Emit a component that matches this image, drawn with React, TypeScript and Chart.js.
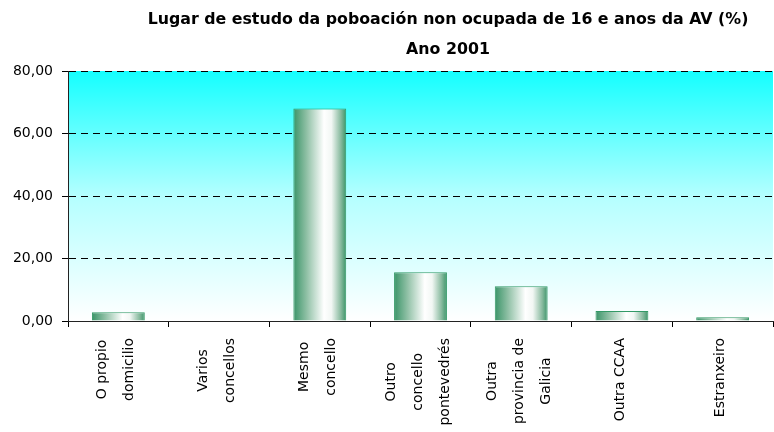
import React, { useEffect, useRef } from 'react';
import { Chart, registerables } from 'chart.js';

Chart.register(...registerables);

const titleLines = ['Lugar de estudo da poboación non ocupada de 16 e anos da AV (%)', 'Ano 2001'];
const categories: string[][] = [
  ['O propio', 'domicilio'],
  ['Varios', 'concellos'],
  ['Mesmo', 'concello'],
  ['Outro', 'concello', 'pontevedrés'],
  ['Outra', 'provincia de', 'Galicia'],
  ['Outra CCAA'],
  ['Estranxeiro'],
];
const values = [2.8, 0, 68.0, 15.6, 11.1, 3.2, 1.2];
const yMin = 0;
const yMax = 80;
const yStep = 20;

const BAR_PCT = 0.525;
const FONT = '"DejaVu Sans", Verdana, sans-serif';

const bgPlugin = {
  id: 'plotBg',
  beforeDraw(chart: any) {
    const { ctx, chartArea: a } = chart;
    if (!a) return;
    const g = ctx.createLinearGradient(0, a.top, 0, a.bottom);
    g.addColorStop(0, '#14ffff');
    g.addColorStop(0.5, '#b4ffff');
    g.addColorStop(1, '#ffffff');
    ctx.save();
    ctx.fillStyle = g;
    ctx.fillRect(a.left, a.top, a.right - a.left, a.bottom - a.top);
    ctx.restore();
  },
};

const titlePlugin = {
  id: 'customTitle',
  afterDraw(chart: any) {
    const { ctx } = chart;
    ctx.save();
    ctx.fillStyle = '#000';
    ctx.font = `bold 15.8px ${FONT}`;
    ctx.textAlign = 'center';
    ctx.textBaseline = 'middle';
    ctx.fillText(titleLines[0], 448, 20);
    ctx.fillText(titleLines[1], 448, 50);
    ctx.restore();
  },
};

const xLabelPlugin = {
  id: 'xLabels',
  afterDraw(chart: any) {
    const { ctx } = chart;
    const scale = chart.scales.x;
    ctx.save();
    ctx.fillStyle = '#000';
    ctx.font = `14px ${FONT}`;
    ctx.textAlign = 'center';
    ctx.textBaseline = 'middle';
    const spacing = 27;
    const top = chart.chartArea.bottom + 17;
    categories.forEach((lines, i) => {
      const cx = scale.getPixelForValue(i) - 2;
      const n = lines.length;
      const w = Math.max(...lines.map((l) => ctx.measureText(l).width));
      lines.forEach((line, j) => {
        const lx = cx + (j - (n - 1) / 2) * spacing;
        ctx.save();
        ctx.translate(lx, top + w / 2);
        ctx.rotate(-Math.PI / 2);
        ctx.fillText(line, 0, 0);
        ctx.restore();
      });
    });
    ctx.restore();
  },
};

function barGradient(context: any) {
  const chart = context.chart;
  const scale = chart.scales?.x;
  if (!scale || !chart.chartArea) return '#4a9f75';
  const i = context.dataIndex ?? 0;
  const cx = scale.getPixelForValue(i);
  const half = (scale.width / categories.length) * BAR_PCT / 2;
  const g = chart.ctx.createLinearGradient(cx - half, 0, cx + half, 0);
  g.addColorStop(0, '#3a9468');
  g.addColorStop(0.25, '#8fc0a5');
  g.addColorStop(0.58, '#ffffff');
  g.addColorStop(0.72, '#f2f7f4');
  g.addColorStop(0.9, '#86b99d');
  g.addColorStop(1, '#3a9468');
  return g;
}

export default function App() {
  const ref = useRef<HTMLCanvasElement | null>(null);
  useEffect(() => {
    if (!ref.current) return;
    const chart = new Chart(ref.current, {
      type: 'bar',
      data: {
        labels: categories.map((c) => c.join(' ')),
        datasets: [
          {
            data: values,
            backgroundColor: barGradient,
            borderColor: '#339966',
            borderWidth: 1,
            borderSkipped: 'bottom',
            barPercentage: BAR_PCT,
            categoryPercentage: 1,
          },
        ],
      },
      options: {
        animation: false,
        responsive: true,
        maintainAspectRatio: false,
        layout: { padding: { top: 71, right: 1, left: 0, bottom: 0 } },
        plugins: { legend: { display: false }, title: { display: false }, tooltip: { enabled: false } },
        scales: {
          x: {
            offset: true,
            afterFit(scale: any) {
              scale.height = 111;
            },
            grid: { display: true, drawOnChartArea: false, drawTicks: true, tickLength: 6, color: '#000', offset: true },
            border: { display: true, color: '#222', width: 1 },
            ticks: { display: false },
          },
          y: {
            min: yMin,
            max: yMax,
            afterFit(scale: any) {
              scale.width = 68;
            },
            ticks: {
              stepSize: yStep,
              color: '#000',
              padding: 9,
              font: { size: 14, family: FONT },
              callback: (v: any) => Number(v).toFixed(2).replace('.', ','),
            },
            grid: { color: '#000', lineWidth: 1, tickLength: 6, tickColor: '#000', tickBorderDash: [] },
            border: { display: true, color: '#222', width: 1, dash: [7, 5] },
          },
        },
      },
      plugins: [bgPlugin, titlePlugin, xLabelPlugin],
    });
    return () => chart.destroy();
  }, []);
  return (
    <div style={{ position: 'absolute', left: 0, top: 0, width: 774, height: 432, background: '#fff' }}>
      <canvas ref={ref} />
    </div>
  );
}
